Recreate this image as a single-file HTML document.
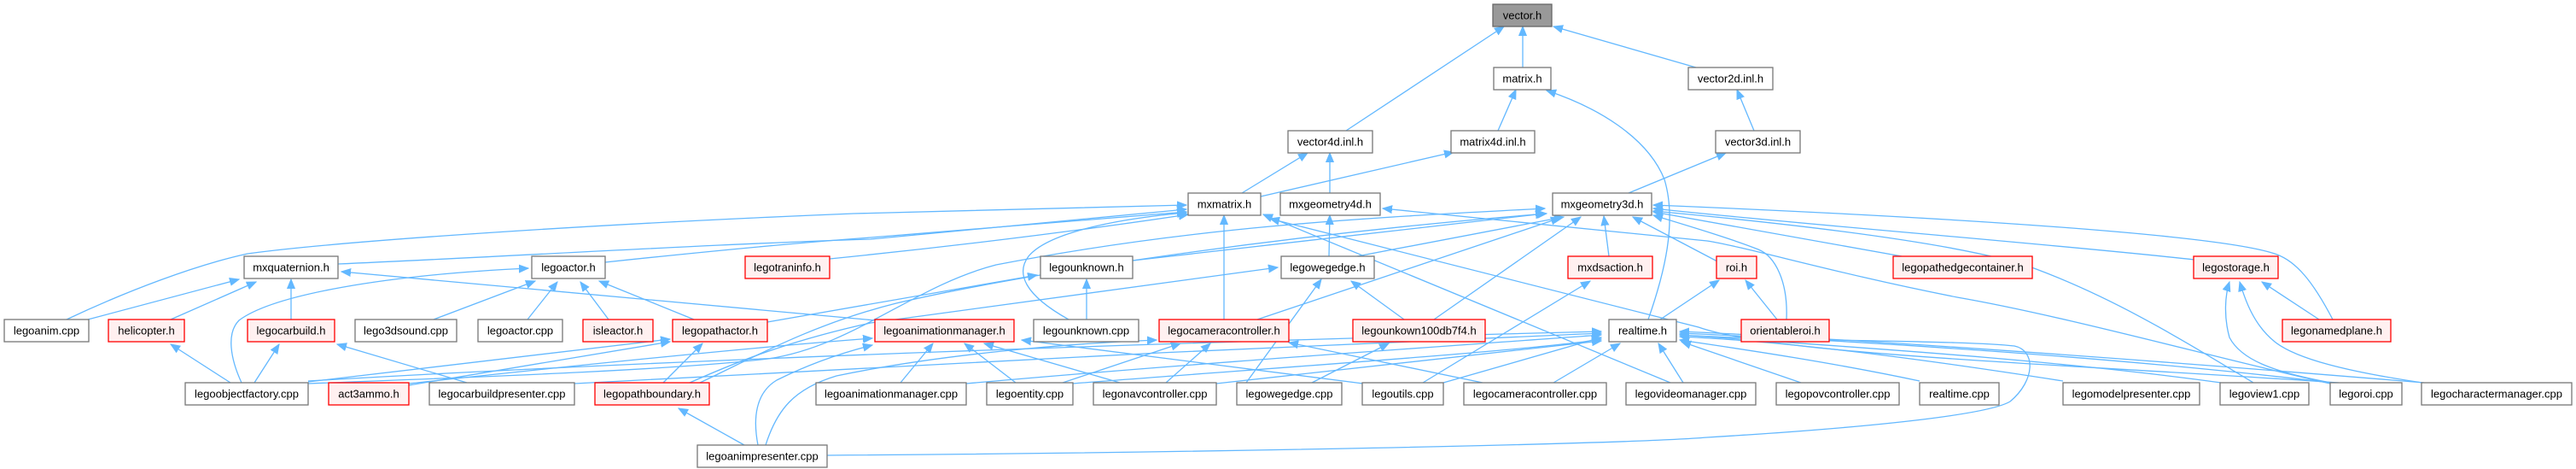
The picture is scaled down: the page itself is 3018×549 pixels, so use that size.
<!DOCTYPE html>
<html><head><meta charset="utf-8"><style>
html,body{margin:0;padding:0;background:#fff;}
svg{display:block;}
text{font-family:"Liberation Sans",Arial,sans-serif;font-size:13px;fill:#000;text-anchor:middle;}
.g{fill:#fff;stroke:#777;stroke-width:1.3;}
.r{fill:#fff0f0;stroke:#ff0000;stroke-width:1.3;}
.f{fill:#999;stroke:#666;stroke-width:1.3;}
.e path{fill:none;stroke:#63b8ff;stroke-width:1.3;marker-end:url(#a);}
</style></head><body>
<svg width="3018" height="549" viewBox="0 0 3018 549" xmlns="http://www.w3.org/2000/svg">
<defs><marker id="a" markerWidth="12" markerHeight="10" refX="11" refY="5" orient="auto" markerUnits="userSpaceOnUse"><path d="M0,0.5 L11,5 L0,9.5 z" fill="#63b8ff" stroke="#63b8ff" stroke-width="1"/></marker></defs>
<g class="e">
<path d="M1577,153 L1762,31"/>
<path d="M1784,79 L1784,31"/>
<path d="M1987,79 L1820,31"/>
<path d="M1755,153 L1776,105"/>
<path d="M1931,374 C1950,320 1965,260 1950,210 C1930,160 1870,125 1812,106"/>
<path d="M2055,153 L2035,105"/>
<path d="M1455,226 L1532,179"/>
<path d="M1558,226 L1558,179"/>
<path d="M1477,230 L1703,178"/>
<path d="M1908,226 L2022,179"/>
<path d="M78,374 C150,340 230,310 290,297 C400,282 700,262 1000,250 L1390,240"/>
<path d="M396,309 C600,300 850,285 1020,280 L1390,245"/>
<path d="M709,307 C850,292 950,283 1020,278 L1390,248"/>
<path d="M972,303 C1150,285 1300,265 1392,251"/>
<path d="M1252,374 C1200,345 1190,320 1205,300 C1230,270 1320,255 1390,249"/>
<path d="M1434,374 L1434,252"/>
<path d="M1957,448 L1480,251"/>
<path d="M2740,448 C2400,425 2080,415 1990,383 L1488,256"/>
<path d="M1557,300 L1558,252"/>
<path d="M2730,449 C2600,420 2420,370 2293,348 C2150,320 2050,290 2000,282 L1620,244"/>
<path d="M1680,374 L1852,254"/>
<path d="M1590,300 L1832,254"/>
<path d="M1473,374 L1828,255"/>
<path d="M1885,300 L1879,253"/>
<path d="M2012,306 L1913,254"/>
<path d="M2228,300 L1937,248"/>
<path d="M2571,304 C2400,285 2100,262 1937,244"/>
<path d="M2733,374 C2710,330 2690,305 2665,297 C2600,275 2300,255 1937,240"/>
<path d="M2093,374 C2095,330 2080,300 2060,292 C2030,280 1980,265 1937,252"/>
<path d="M2640,448 C2560,400 2480,350 2383,314 C2300,285 2100,262 1937,247"/>
<path d="M1327,305 L1810,250"/>
<path d="M820,448 C880,420 950,380 1050,355 C1200,320 1500,275 1812,250"/>
<path d="M361,449 C600,440 800,432 900,420 C1000,405 1070,335 1167,310 C1400,265 1600,255 1810,244"/>
<path d="M1691,448 L1876,395"/>
<path d="M1820,448 L1898,402"/>
<path d="M1972,448 L1943,402"/>
<path d="M2110,448 L1970,400"/>
<path d="M2249,446 C2150,425 2050,410 1968,398"/>
<path d="M2417,446 C2250,420 2100,400 1968,394"/>
<path d="M2602,448 C2400,420 2150,405 1968,392"/>
<path d="M2730,448 C2500,420 2200,400 1968,390"/>
<path d="M2840,448 C2500,420 2200,398 1968,388"/>
<path d="M969,533 C1400,530 1900,520 2000,512 C2200,500 2330,485 2355,470 C2385,445 2385,410 2360,405 C2300,398 2100,400 1968,392"/>
<path d="M1257,449 C1500,430 1800,410 1876,397"/>
<path d="M1425,449 L1876,399"/>
<path d="M1132,449 C1400,425 1700,405 1876,392"/>
<path d="M673,449 C1000,430 1500,405 1876,390"/>
<path d="M361,446 C800,420 1400,400 1876,388"/>
<path d="M1055,448 L1093,402"/>
<path d="M1190,448 L1130,402"/>
<path d="M1312,448 L1153,402"/>
<path d="M1597,449 L1197,398"/>
<path d="M479,449 C700,425 900,405 1022,396"/>
<path d="M888,521 C882,490 885,460 910,445 C950,425 990,412 1022,404"/>
<path d="M1245,448 L1383,402"/>
<path d="M1366,448 L1418,402"/>
<path d="M1737,448 L1510,401"/>
<path d="M897,521 C910,480 930,455 980,440 C1100,415 1250,402 1355,398"/>
<path d="M103,374 L280,327"/>
<path d="M200,374 L300,330"/>
<path d="M341,374 L341,327"/>
<path d="M1025,375 L400,318"/>
<path d="M508,374 L627,329"/>
<path d="M618,374 L653,330"/>
<path d="M713,374 L680,330"/>
<path d="M813,374 L702,329"/>
<path d="M283,448 C270,420 265,390 280,375 C320,345 450,322 619,314"/>
<path d="M270,448 L200,403"/>
<path d="M298,448 L327,403"/>
<path d="M547,448 L395,403"/>
<path d="M777,448 L823,402"/>
<path d="M479,451 L785,400"/>
<path d="M361,447 L785,397"/>
<path d="M872,521 L795,478"/>
<path d="M1273,374 L1273,327"/>
<path d="M899,377 L1215,322"/>
<path d="M1460,448 L1548,327"/>
<path d="M1645,374 L1583,329"/>
<path d="M808,448 C860,425 920,400 1020,378 L1497,313"/>
<path d="M1537,448 L1627,402"/>
<path d="M1667,448 L1863,329"/>
<path d="M1945,374 L2014,328"/>
<path d="M2082,374 L2045,328"/>
<path d="M2717,374 L2650,330"/>
<path d="M2731,448 C2660,435 2625,420 2612,395 C2605,370 2607,345 2612,330"/>
<path d="M2838,448 C2750,435 2690,420 2665,400 C2640,380 2630,350 2624,330"/>
</g>
<g>
<rect class="f" x="1749" y="5" width="69" height="26"/><text x="1783.5" y="22.5">vector.h</text>
<rect class="g" x="1750" y="79" width="67" height="26"/><text x="1783.5" y="96.5">matrix.h</text>
<rect class="g" x="1978" y="79" width="99" height="26"/><text x="2027.5" y="96.5">vector2d.inl.h</text>
<rect class="g" x="1509" y="153" width="99" height="26"/><text x="1558.5" y="170.5">vector4d.inl.h</text>
<rect class="g" x="1700" y="153" width="98" height="26"/><text x="1749" y="170.5">matrix4d.inl.h</text>
<rect class="g" x="2010" y="153" width="99" height="26"/><text x="2059.5" y="170.5">vector3d.inl.h</text>
<rect class="g" x="1392" y="226" width="85" height="26"/><text x="1434.5" y="243.5">mxmatrix.h</text>
<rect class="g" x="1500" y="226" width="117" height="26"/><text x="1558.5" y="243.5">mxgeometry4d.h</text>
<rect class="g" x="1819" y="226" width="116" height="26"/><text x="1877" y="243.5">mxgeometry3d.h</text>
<rect class="g" x="286" y="300" width="110" height="26"/><text x="341" y="317.5">mxquaternion.h</text>
<rect class="g" x="623" y="300" width="86" height="26"/><text x="666" y="317.5">legoactor.h</text>
<rect class="r" x="873" y="300" width="99" height="26"/><text x="922.5" y="317.5">legotraninfo.h</text>
<rect class="g" x="1219" y="300" width="108" height="26"/><text x="1273" y="317.5">legounknown.h</text>
<rect class="g" x="1501" y="300" width="109" height="26"/><text x="1555.5" y="317.5">legowegedge.h</text>
<rect class="r" x="1837" y="300" width="99" height="26"/><text x="1886.5" y="317.5">mxdsaction.h</text>
<rect class="r" x="2011" y="300" width="47" height="26"/><text x="2034.5" y="317.5">roi.h</text>
<rect class="r" x="2218" y="300" width="163" height="26"/><text x="2299.5" y="317.5">legopathedgecontainer.h</text>
<rect class="r" x="2570" y="300" width="99" height="26"/><text x="2619.5" y="317.5">legostorage.h</text>
<rect class="g" x="5" y="374" width="99" height="26"/><text x="54.5" y="391.5">legoanim.cpp</text>
<rect class="r" x="127" y="374" width="89" height="26"/><text x="171.5" y="391.5">helicopter.h</text>
<rect class="r" x="290" y="374" width="102" height="26"/><text x="341" y="391.5">legocarbuild.h</text>
<rect class="g" x="416" y="374" width="119" height="26"/><text x="475.5" y="391.5">lego3dsound.cpp</text>
<rect class="g" x="560" y="374" width="99" height="26"/><text x="609.5" y="391.5">legoactor.cpp</text>
<rect class="r" x="683" y="374" width="82" height="26"/><text x="724" y="391.5">isleactor.h</text>
<rect class="r" x="788" y="374" width="111" height="26"/><text x="843.5" y="391.5">legopathactor.h</text>
<rect class="r" x="1025" y="374" width="163" height="26"/><text x="1106.5" y="391.5">legoanimationmanager.h</text>
<rect class="g" x="1211" y="374" width="123" height="26"/><text x="1272.5" y="391.5">legounknown.cpp</text>
<rect class="r" x="1358" y="374" width="152" height="26"/><text x="1434" y="391.5">legocameracontroller.h</text>
<rect class="r" x="1585" y="374" width="155" height="26"/><text x="1662.5" y="391.5">legounkown100db7f4.h</text>
<rect class="g" x="1885" y="374" width="79" height="26"/><text x="1924.5" y="391.5">realtime.h</text>
<rect class="r" x="2040" y="374" width="103" height="26"/><text x="2091.5" y="391.5">orientableroi.h</text>
<rect class="r" x="2674" y="374" width="127" height="26"/><text x="2737.5" y="391.5">legonamedplane.h</text>
<rect class="g" x="217" y="448" width="144" height="26"/><text x="289" y="465.5">legoobjectfactory.cpp</text>
<rect class="r" x="385" y="448" width="94" height="26"/><text x="432" y="465.5">act3ammo.h</text>
<rect class="g" x="503" y="448" width="170" height="26"/><text x="588" y="465.5">legocarbuildpresenter.cpp</text>
<rect class="r" x="697" y="448" width="134" height="26"/><text x="764" y="465.5">legopathboundary.h</text>
<rect class="g" x="956" y="448" width="176" height="26"/><text x="1044" y="465.5">legoanimationmanager.cpp</text>
<rect class="g" x="1156" y="448" width="101" height="26"/><text x="1206.5" y="465.5">legoentity.cpp</text>
<rect class="g" x="1281" y="448" width="144" height="26"/><text x="1353" y="465.5">legonavcontroller.cpp</text>
<rect class="g" x="1449" y="448" width="123" height="26"/><text x="1510.5" y="465.5">legowegedge.cpp</text>
<rect class="g" x="1596" y="448" width="95" height="26"/><text x="1643.5" y="465.5">legoutils.cpp</text>
<rect class="g" x="1715" y="448" width="167" height="26"/><text x="1798.5" y="465.5">legocameracontroller.cpp</text>
<rect class="g" x="1905" y="448" width="152" height="26"/><text x="1981" y="465.5">legovideomanager.cpp</text>
<rect class="g" x="2081" y="448" width="144" height="26"/><text x="2153" y="465.5">legopovcontroller.cpp</text>
<rect class="g" x="2249" y="448" width="93" height="26"/><text x="2295.5" y="465.5">realtime.cpp</text>
<rect class="g" x="2417" y="448" width="160" height="26"/><text x="2497" y="465.5">legomodelpresenter.cpp</text>
<rect class="g" x="2601" y="448" width="104" height="26"/><text x="2653" y="465.5">legoview1.cpp</text>
<rect class="g" x="2730" y="448" width="84" height="26"/><text x="2772" y="465.5">legoroi.cpp</text>
<rect class="g" x="2837" y="448" width="176" height="26"/><text x="2925" y="465.5">legocharactermanager.cpp</text>
<rect class="g" x="817" y="521" width="152" height="26"/><text x="893" y="538.5">legoanimpresenter.cpp</text>
</g>
</svg>
</body></html>
